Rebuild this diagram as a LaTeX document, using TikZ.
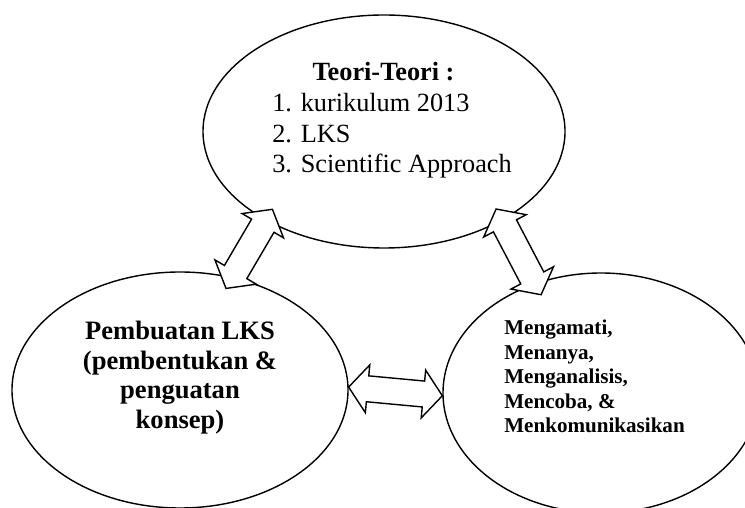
\documentclass[tikz,border=0pt]{standalone}
\usepackage{fontspec}
\setmainfont{Liberation Serif}
\usetikzlibrary{calc,shapes.geometric}

\tikzset{
  bubble/.style={ellipse, draw, line width=1pt, inner sep=0pt},
  bigarrow/.style={draw, fill=white, line width=1pt, line join=miter},
  txt/.style={inner sep=0pt}
}

% hollow double block arrow between two points
\def\headlen{0.475cm}
\def\headwd{0.6cm}
\def\shaftwd{0.325cm}
\newcommand{\twoway}[3]{%
  \coordinate (tw-s) at ($(#2)!-#1!(#3)$);
  \coordinate (tw-e) at ($(#3)!-#1!(#2)$);
  \draw[bigarrow] (tw-s)
    -- ($(tw-s)!\headlen!(tw-e)!\headwd!90:(tw-e)$)
    -- ($(tw-s)!\headlen!(tw-e)!\shaftwd!90:(tw-e)$)
    -- ($(tw-e)!\headlen!(tw-s)!\shaftwd!-90:(tw-s)$)
    -- ($(tw-e)!\headlen!(tw-s)!\headwd!-90:(tw-s)$)
    -- (tw-e)
    -- ($(tw-e)!\headlen!(tw-s)!\headwd!90:(tw-s)$)
    -- ($(tw-e)!\headlen!(tw-s)!\shaftwd!90:(tw-s)$)
    -- ($(tw-s)!\headlen!(tw-e)!\shaftwd!-90:(tw-e)$)
    -- ($(tw-s)!\headlen!(tw-e)!\headwd!-90:(tw-e)$)
    -- cycle;
}

\begin{document}
\begin{tikzpicture}

\path[use as bounding box, fill=white] (0,0) rectangle (18.625,12.675);

% Ellipses
\node[bubble, minimum width=9.05cm, minimum height=5.825cm] (teori) at (9.6, 9.3875) {};
\node[bubble, minimum width=8.4cm, minimum height=5.9cm] (lks) at (4.5, 2.925) {};
\node[bubble, minimum width=7.9cm, minimum height=6cm] (langkah) at (15.025, 2.85) {};

% Arrows
\twoway{0.325cm}{lks.65}{teori.217}
\twoway{0.325cm}{langkah.121}{teori.323}
\twoway{0cm}{lks.1}{langkah.181}

% Texts
\node[txt, anchor=base, font=\fontsize{18.7}{21}\selectfont\bfseries] (judul) at (9.5875, 10.65) {Teori-Teori :};
\node[txt, anchor=west, align=left, font=\fontsize{18.7}{22}\selectfont] (daftar) at (6.8, 9.2825) {1. kurikulum 2013\\2. LKS\\3. Scientific Approach};
\node[txt, align=center, font=\fontsize{18.9}{21}\selectfont\bfseries] (teks-lks) at (4.5, 3.2325) {Pembuatan LKS\\(pembentukan \&\\penguatan\\konsep)};
\node[txt, anchor=west, align=left, font=\fontsize{15}{17.4}\selectfont\bfseries] (teks-langkah) at (12.6, 3.26) {Mengamati,\\Menanya,\\Menganalisis,\\Mencoba, \&\\Menkomunikasikan};

\end{tikzpicture}
\end{document}
